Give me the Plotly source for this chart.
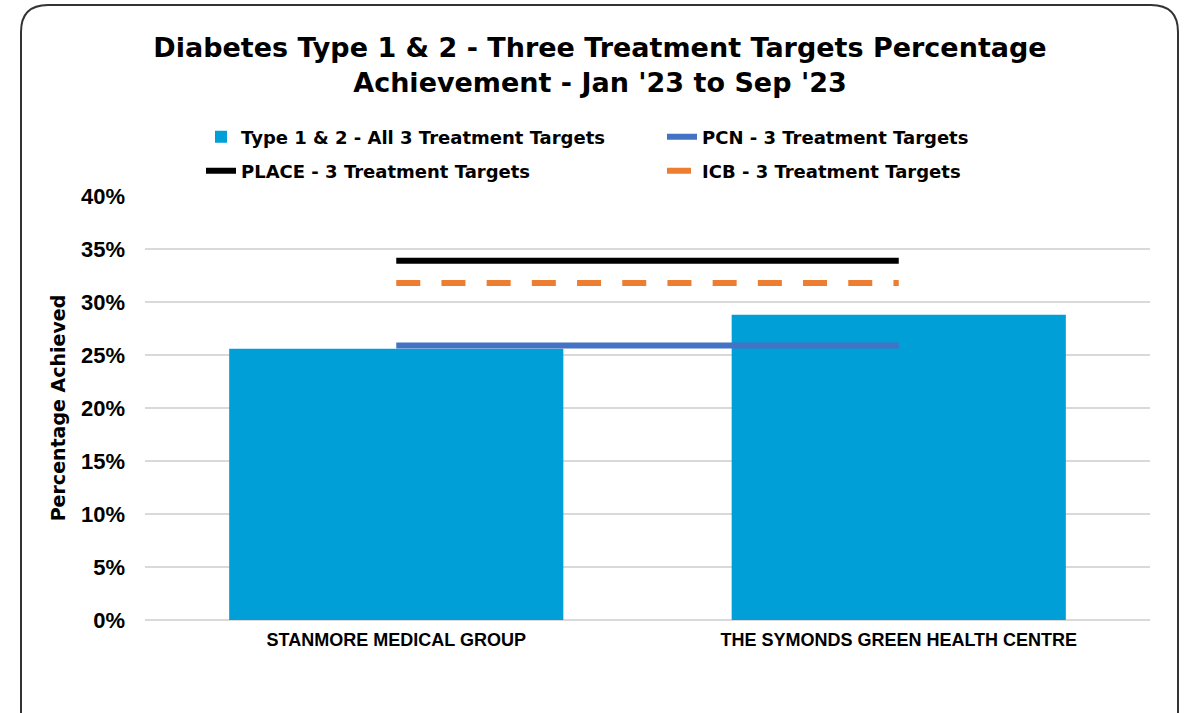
"""
Diabetes Type 1 & 2 - three treatment targets, percentage achieved by practice.
"""

import plotly.graph_objects as go

practices = ['STANMORE MEDICAL GROUP', 'THE SYMONDS GREEN HEALTH CENTRE']
practice_pct = [0.256, 0.288]
pcn_pct = [0.259, 0.259]
place_pct = [0.339, 0.339]
icb_pct = [0.318, 0.318]

y_ticks = [0, 0.05, 0.10, 0.15, 0.20, 0.25, 0.30, 0.35, 0.40]

W, H = 1186, 713
M_L, M_R, M_T, M_B = 145, 36, 196, 93
PW = W - M_L - M_R
PH = H - M_T - M_B


def px_to_paper(x, y):
    """Convert screen pixels to paper coordinates (used for the frame and legends)."""
    return (x - M_L) / PW, (H - M_B - y) / PH


def rounded_border(x0, y0, x1, y1, r):
    a = px_to_paper(x0 + r, y0)
    parts = [f"M {a[0]},{a[1]}"]
    for (lx, ly), (cx, cy), (ex, ey) in [
        ((x1 - r, y0), (x1, y0), (x1, y0 + r)),
        ((x1, y1 - r), (x1, y1), (x1 - r, y1)),
        ((x0 + r, y1), (x0, y1), (x0, y1 - r)),
        ((x0, y0 + r), (x0, y0), (x0 + r, y0)),
    ]:
        l = px_to_paper(lx, ly)
        c = px_to_paper(cx, cy)
        e = px_to_paper(ex, ey)
        parts.append(f"L {l[0]},{l[1]} Q {c[0]},{c[1]} {e[0]},{e[1]}")
    return " ".join(parts) + " Z"


ARIAL = 'Liberation Sans, Arial, sans-serif'
WIDE = 'DejaVu Sans, Verdana, sans-serif'

fig = go.Figure()

fig.add_trace(go.Bar(
    x=practices,
    y=practice_pct,
    name='Type 1 & 2 - All 3 Treatment Targets',
    marker=dict(color='#009fd7', line=dict(width=0)),
    width=0.665,
    legend='legend',
))

fig.add_trace(go.Scatter(
    x=practices, y=pcn_pct, mode='lines',
    name='PCN - 3 Treatment Targets',
    line=dict(color='#4472c4', width=6),
    legend='legend2',
))

fig.add_trace(go.Scatter(
    x=practices, y=place_pct, mode='lines',
    name='PLACE - 3 Treatment Targets',
    line=dict(color='#000000', width=6),
    legend='legend3',
))

fig.add_trace(go.Scatter(
    x=practices, y=icb_pct, mode='lines',
    name='ICB - 3 Treatment Targets',
    line=dict(color='#ed7d31', width=6, dash='24px,21.2px'),
    legend='legend4',
))

fig.add_shape(
    type='path',
    xref='paper', yref='paper',
    path=rounded_border(21, 5, 1178, 740, 27),
    line=dict(color='#333333', width=2),
    fillcolor='rgba(0,0,0,0)',
    layer='below',
)


def legend_at(x_px, y_px):
    lx, ly = px_to_paper(x_px, y_px)
    return dict(
        x=lx, xanchor='left',
        y=ly, yanchor='middle',
        bgcolor='rgba(0,0,0,0)',
        font=dict(size=18, family=WIDE, color='black', weight='bold'),
    )


fig.update_layout(
    width=W, height=H,
    margin=dict(l=M_L, r=M_R, t=M_T, b=M_B),
    paper_bgcolor='white',
    plot_bgcolor='white',
    font=dict(family=ARIAL, color='black'),
    title=dict(
        text='Diabetes Type 1 & 2 - Three Treatment Targets Percentage<br>'
             'Achievement - Jan \'23 to Sep \'23',
        x=600 / W, xanchor='center',
        y=1 - 56.5 / H, yanchor='middle',
        font=dict(size=27, family=WIDE, color='black', weight='bold'),
    ),
    legend=legend_at(201, 137),
    legend2=legend_at(662, 137),
    legend3=legend_at(201, 171),
    legend4=legend_at(662, 171),
    showlegend=True,
)

fig.update_xaxes(
    showgrid=False,
    showline=False,
    ticks='',
    ticklabelstandoff=7,
    tickfont=dict(size=18, family=ARIAL, color='black', weight='bold'),
)

fig.update_yaxes(
    range=[0, 0.40],
    tickvals=y_ticks,
    tickformat='.0%',
    showgrid=True,
    gridcolor='#d9d9d9',
    gridwidth=2,
    zeroline=True,
    zerolinecolor='#d9d9d9',
    zerolinewidth=2,
    ticks='',
    ticklabelstandoff=19,
    tickfont=dict(size=22, family=ARIAL, color='black', weight='bold'),
    title=dict(
        text='Percentage Achieved',
        font=dict(size=19, family=WIDE, color='black', weight='bold'),
        standoff=10,
    ),
)

fig.write_html(
    "out.html",
    config={'displayModeBar': False},
    post_script="document.body.style.margin = '0';",
)
